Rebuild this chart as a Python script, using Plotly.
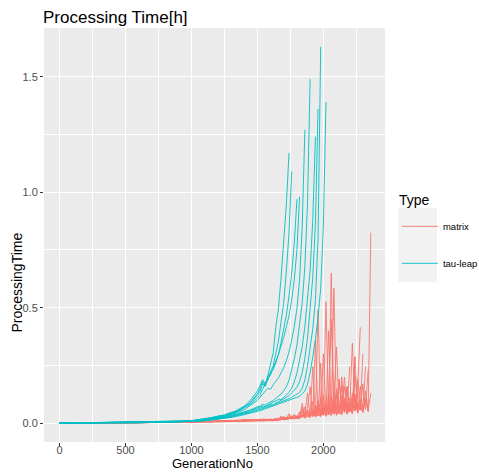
import plotly.graph_objects as go

# ---- generation grids -------------------------------------------------------
TAU_GEN = [0, 100, 200, 300, 400, 500, 600, 700, 800, 900, 1000,
           1050, 1100, 1150, 1200, 1250, 1300, 1350, 1400, 1450, 1500,
           1520, 1540, 1560, 1580, 1600, 1620, 1640, 1660, 1680, 1700,
           1720, 1740, 1760, 1780, 1800, 1820, 1840, 1860, 1880, 1900,
           1920, 1940, 1960, 1980, 2000, 2020]

MAT_GEN = [0, 100, 200, 300, 400, 500, 600, 700, 800, 900, 1000,
           1050, 1100, 1150, 1200, 1250, 1300, 1350, 1400, 1450, 1500, 1550, 1600,
           1620, 1640, 1660, 1680, 1700, 1720, 1740, 1760, 1780, 1800,
           1820, 1840, 1860, 1880, 1900, 1920, 1940, 1960, 1980, 2000,
           2020, 2040, 2060, 2080, 2100, 2120, 2140, 2160, 2180, 2200,
           2220, 2240, 2260, 2280, 2300, 2320, 2340, 2360, 2380]

# ---- processing time per run, tau-leap ------------------------------------
tau_run_1 = [0.000, 0.001, 0.001, 0.002, 0.002, 0.003, 0.003, 0.004, 0.006, 0.008, 0.011,
             0.014, 0.019, 0.023, 0.031, 0.036, 0.047, 0.052, 0.071, 0.088, 0.121,
             0.138, 0.172, 0.158, 0.207, 0.262, 0.305, 0.418, 0.497, 0.634, 0.779, 0.948, 1.17]
tau_run_2 = [0.000, 0.001, 0.001, 0.001, 0.002, 0.002, 0.003, 0.004, 0.005, 0.008, 0.010,
             0.013, 0.017, 0.021, 0.026, 0.034, 0.041, 0.049, 0.066, 0.083, 0.109,
             0.121, 0.149, 0.172, 0.186, 0.224, 0.248, 0.302, 0.356, 0.441, 0.523, 0.661, 0.824, 1.09]
tau_run_3 = [0.000, 0.001, 0.001, 0.002, 0.002, 0.002, 0.003, 0.004, 0.005, 0.007, 0.010,
             0.012, 0.016, 0.020, 0.025, 0.031, 0.040, 0.053, 0.069, 0.092, 0.128,
             0.149, 0.181, 0.162, 0.193, 0.209, 0.238, 0.272, 0.298, 0.351, 0.407, 0.468, 0.552,
             0.648, 0.781, 0.97]
tau_run_4 = [0.000, 0.001, 0.001, 0.001, 0.002, 0.003, 0.003, 0.004, 0.006, 0.008, 0.011,
             0.015, 0.018, 0.022, 0.029, 0.034, 0.043, 0.058, 0.074, 0.101, 0.139,
             0.162, 0.188, 0.171, 0.203, 0.218, 0.232, 0.261, 0.297, 0.328, 0.372, 0.418, 0.466,
             0.534, 0.621, 0.752, 0.98]
tau_run_5 = [0.000, 0.001, 0.001, 0.002, 0.002, 0.002, 0.003, 0.004, 0.005, 0.007, 0.009,
             0.012, 0.015, 0.019, 0.024, 0.030, 0.037, 0.046, 0.058, 0.077, 0.098,
             0.112, 0.128, 0.139, 0.151, 0.147, 0.166, 0.181, 0.196, 0.219, 0.241, 0.272, 0.308,
             0.359, 0.418, 0.497, 0.618, 0.852, 1.27]
tau_run_6 = [0.000, 0.001, 0.001, 0.001, 0.002, 0.002, 0.003, 0.003, 0.004, 0.006, 0.008,
             0.011, 0.014, 0.017, 0.022, 0.027, 0.033, 0.041, 0.049, 0.058, 0.071,
             0.074, 0.081, 0.079, 0.086, 0.092, 0.098, 0.108, 0.117, 0.126, 0.141, 0.158, 0.186,
             0.228, 0.279, 0.338, 0.419, 0.521, 0.679, 0.951, 1.49]
tau_run_7 = [0.000, 0.001, 0.001, 0.002, 0.002, 0.002, 0.003, 0.003, 0.004, 0.006, 0.008,
             0.010, 0.013, 0.016, 0.021, 0.026, 0.031, 0.038, 0.046, 0.055, 0.066,
             0.069, 0.074, 0.072, 0.079, 0.085, 0.091, 0.096, 0.104, 0.101, 0.112, 0.121, 0.133,
             0.151, 0.179, 0.218, 0.268, 0.331, 0.418, 0.528, 0.661, 0.879, 1.24]
tau_run_8 = [0.000, 0.001, 0.001, 0.001, 0.002, 0.002, 0.002, 0.003, 0.004, 0.005, 0.007,
             0.009, 0.012, 0.015, 0.019, 0.024, 0.029, 0.036, 0.043, 0.051, 0.061,
             0.064, 0.068, 0.071, 0.076, 0.081, 0.079, 0.087, 0.093, 0.098, 0.103, 0.112, 0.119,
             0.131, 0.142, 0.156, 0.181, 0.219, 0.281, 0.368, 0.497, 0.631, 0.862, 1.36]
tau_run_9 = [0.000, 0.001, 0.001, 0.001, 0.001, 0.002, 0.002, 0.003, 0.004, 0.005, 0.007,
             0.009, 0.011, 0.014, 0.018, 0.022, 0.027, 0.033, 0.039, 0.047, 0.056,
             0.059, 0.063, 0.066, 0.071, 0.075, 0.079, 0.083, 0.088, 0.092, 0.097, 0.101, 0.106,
             0.112, 0.118, 0.124, 0.133, 0.151, 0.188, 0.247, 0.321, 0.408, 0.532, 0.801, 1.63]
tau_run_10 = [0.000, 0.001, 0.001, 0.001, 0.001, 0.002, 0.002, 0.003, 0.003, 0.005, 0.006,
              0.008, 0.010, 0.013, 0.016, 0.020, 0.025, 0.030, 0.036, 0.043, 0.051,
              0.054, 0.058, 0.061, 0.065, 0.069, 0.073, 0.077, 0.081, 0.085, 0.089, 0.094, 0.098,
              0.103, 0.107, 0.112, 0.117, 0.126, 0.139, 0.168, 0.219, 0.288, 0.362, 0.461, 0.583,
              0.849, 1.39]

# ---- processing time per run, matrix ----------------------------------------
matrix_run_1 = [0.0, 0.001, 0.001, 0.001, 0.002, 0.002, 0.002, 0.003, 0.003, 0.004, 0.005,
                0.005, 0.006, 0.006, 0.007, 0.008, 0.009, 0.010, 0.011, 0.012, 0.014, 0.013, 0.015,
                0.012, 0.018, 0.014, 0.022, 0.016, 0.025, 0.019, 0.031, 0.021, 0.028,
                0.024, 0.086, 0.027, 0.041, 0.03, 0.062, 0.033, 0.075, 0.036, 0.058,
                0.039, 0.091, 0.043, 0.11, 0.047, 0.19, 0.05, 0.085, 0.056, 0.245]
matrix_run_2 = [0.0, 0.001, 0.001, 0.002, 0.002, 0.002, 0.003, 0.003, 0.004, 0.004, 0.005,
                0.006, 0.007, 0.006, 0.008, 0.009, 0.012, 0.010, 0.013, 0.015, 0.014, 0.017, 0.013,
                0.015, 0.011, 0.019, 0.026, 0.017, 0.021, 0.034, 0.02, 0.027, 0.023,
                0.045, 0.026, 0.038, 0.13, 0.029, 0.052, 0.032, 0.098, 0.035, 0.30,
                0.038, 0.072, 0.041, 0.14, 0.044, 0.066, 0.048, 0.2, 0.051, 0.083,
                0.055, 0.288]
matrix_run_3 = [0.0, 0.001, 0.001, 0.001, 0.001, 0.002, 0.002, 0.002, 0.003, 0.003, 0.004,
                0.004, 0.005, 0.005, 0.006, 0.007, 0.008, 0.009, 0.008, 0.010, 0.011, 0.012, 0.011,
                0.01, 0.016, 0.013, 0.019, 0.028, 0.016, 0.023, 0.018, 0.036, 0.02,
                0.022, 0.051, 0.025, 0.064, 0.158, 0.028, 0.071, 0.031, 0.26, 0.034,
                0.526, 0.037, 0.12, 0.04, 0.078, 0.043, 0.16, 0.047, 0.158, 0.05,
                0.094, 0.054, 0.124]
matrix_run_4 = [0.0, 0.001, 0.001, 0.001, 0.002, 0.002, 0.002, 0.003, 0.003, 0.004, 0.005,
                0.006, 0.005, 0.007, 0.008, 0.010, 0.009, 0.012, 0.014, 0.011, 0.016, 0.013, 0.018,
                0.014, 0.02, 0.016, 0.031, 0.018, 0.022, 0.041, 0.024, 0.02, 0.033,
                0.026, 0.058, 0.029, 0.047, 0.032, 0.245, 0.035, 0.09, 0.038, 0.067,
                0.041, 0.4, 0.044, 0.1, 0.33, 0.047, 0.12, 0.05, 0.087, 0.053,
                0.346, 0.057, 0.13, 0.415]
matrix_run_5 = [0.0, 0.001, 0.001, 0.002, 0.002, 0.002, 0.003, 0.003, 0.004, 0.005, 0.005,
                0.006, 0.007, 0.008, 0.007, 0.009, 0.011, 0.010, 0.013, 0.016, 0.012, 0.015, 0.019,
                0.017, 0.013, 0.021, 0.015, 0.027, 0.019, 0.024, 0.021, 0.038, 0.023,
                0.049, 0.025, 0.071, 0.028, 0.055, 0.031, 0.36, 0.034, 0.11, 0.037,
                0.082, 0.04, 0.65, 0.043, 0.15, 0.046, 0.095, 0.049, 0.158, 0.052,
                0.11, 0.056, 0.19, 0.06, 0.30]
matrix_run_6 = [0.0, 0.001, 0.001, 0.001, 0.001, 0.002, 0.002, 0.002, 0.003, 0.003, 0.004,
                0.004, 0.005, 0.006, 0.005, 0.007, 0.008, 0.007, 0.009, 0.011, 0.010, 0.012, 0.014,
                0.011, 0.015, 0.012, 0.021, 0.014, 0.017, 0.029, 0.018, 0.024, 0.02,
                0.023, 0.039, 0.025, 0.06, 0.028, 0.045, 0.03, 0.49, 0.033, 0.08,
                0.036, 0.13, 0.039, 0.585, 0.042, 0.19, 0.045, 0.105, 0.048, 0.072,
                0.051, 0.21, 0.055, 0.098, 0.059, 0.245]
matrix_run_7 = [0.0, 0.001, 0.001, 0.001, 0.002, 0.002, 0.003, 0.003, 0.003, 0.004, 0.005,
                0.005, 0.006, 0.007, 0.009, 0.008, 0.010, 0.013, 0.011, 0.012, 0.016, 0.014, 0.012,
                0.013, 0.019, 0.015, 0.017, 0.025, 0.018, 0.02, 0.032, 0.021, 0.027,
                0.024, 0.068, 0.026, 0.05, 0.029, 0.095, 0.031, 0.062, 0.034, 0.12,
                0.037, 0.09, 0.45, 0.04, 0.14, 0.043, 0.2, 0.046, 0.075, 0.049,
                0.13, 0.052, 0.085, 0.056, 0.17, 0.06, 0.23]
matrix_run_8 = [0.0, 0.001, 0.001, 0.001, 0.001, 0.002, 0.002, 0.003, 0.003, 0.004, 0.004,
                0.005, 0.006, 0.006, 0.007, 0.008, 0.007, 0.009, 0.011, 0.010, 0.012, 0.015, 0.013,
                0.016, 0.012, 0.018, 0.023, 0.016, 0.019, 0.026, 0.02, 0.022, 0.03,
                0.023, 0.04, 0.025, 0.035, 0.027, 0.055, 0.029, 0.044, 0.031, 0.065,
                0.033, 0.05, 0.035, 0.085, 0.037, 0.06, 0.039, 0.11, 0.041, 0.07,
                0.043, 0.125, 0.045, 0.08, 0.048, 0.1, 0.052]
matrix_run_9 = [0.0, 0.001, 0.001, 0.001, 0.001, 0.001, 0.002, 0.002, 0.003, 0.003, 0.004,
                0.004, 0.005, 0.005, 0.006, 0.006, 0.007, 0.008, 0.009, 0.010, 0.009, 0.011, 0.012,
                0.012, 0.017, 0.013, 0.015, 0.021, 0.016, 0.018, 0.027, 0.019, 0.022,
                0.02, 0.034, 0.022, 0.029, 0.024, 0.047, 0.026, 0.038, 0.028, 0.055,
                0.03, 0.045, 0.032, 0.07, 0.034, 0.052, 0.036, 0.09, 0.038, 0.062,
                0.04, 0.115, 0.043, 0.075, 0.046, 0.14, 0.05, 0.825]
matrix_run_10 = [0.0, 0.001, 0.001, 0.002, 0.002, 0.002, 0.003, 0.003, 0.004, 0.004, 0.005,
                 0.006, 0.006, 0.008, 0.007, 0.010, 0.009, 0.011, 0.014, 0.012, 0.013, 0.017, 0.015,
                 0.015, 0.021, 0.016, 0.019, 0.028, 0.02, 0.024, 0.022, 0.035, 0.024,
                 0.029, 0.026, 0.052, 0.028, 0.043, 0.03, 0.078, 0.032, 0.06, 0.034,
                 0.085, 0.036, 0.065, 0.038, 0.12, 0.04, 0.095, 0.158, 0.043, 0.11,
                 0.046, 0.288, 0.049, 0.16, 0.052, 0.11, 0.056, 0.13]

COLORS = {"matrix": "#F8766D", "tau-leap": "#00BFC4"}

matrix_runs = [matrix_run_1, matrix_run_2, matrix_run_3, matrix_run_4, matrix_run_5,
               matrix_run_6, matrix_run_7, matrix_run_8, matrix_run_9, matrix_run_10]
tau_runs = [tau_run_1, tau_run_2, tau_run_3, tau_run_4, tau_run_5,
            tau_run_6, tau_run_7, tau_run_8, tau_run_9, tau_run_10]

X_TICKS = [0, 500, 1000, 1500, 2000]
Y_TICKS = [0.0, 0.5, 1.0, 1.5]
Y_TICK_TEXT = ["0.0", "0.5", "1.0", "1.5"]

FONT = "Liberation Sans, Arial, sans-serif"

fig = go.Figure()

for kind, runs, gens in (("matrix", matrix_runs, MAT_GEN), ("tau-leap", tau_runs, TAU_GEN)):
    for i, vals in enumerate(runs):
        fig.add_trace(go.Scatter(
            x=gens[:len(vals)], y=vals, mode="lines",
            line=dict(color=COLORS[kind], width=0.9),
            name=kind, legendgroup=kind, showlegend=(i == 0),
            hoverinfo="skip",
        ))

# light key background behind the legend symbols
fig.add_shape(type="rect", xref="paper", yref="paper",
              x0=1.038, x1=1.152, y0=0.386, y1=0.565,
              fillcolor="#F2F2F2", line=dict(width=0), layer="below")

# legend heading and axis titles
fig.add_annotation(text="Type", xref="paper", yref="paper",
                   x=1.036, y=0.5845, xanchor="left", yanchor="middle",
                   showarrow=False, font=dict(family=FONT, size=14, color="black"))
fig.add_annotation(text="GenerationNo", xref="paper", yref="paper",
                   x=0.495, y=-0.0531, xanchor="center", yanchor="middle",
                   showarrow=False, font=dict(family=FONT, size=13, color="black"))
fig.add_annotation(text="ProcessingTime", xref="paper", yref="paper",
                   x=-0.0792, y=0.385, xanchor="center", yanchor="middle", textangle=-90,
                   showarrow=False, font=dict(family=FONT, size=14, color="black"))

axis_common = dict(
    showgrid=True, gridcolor="white", gridwidth=1.1,
    zeroline=False, showline=False, automargin=False,
    ticks="outside", ticklen=3, tickwidth=1, tickcolor="#333333",
    tickfont=dict(family=FONT, size=11, color="#4D4D4D"),
)

fig.update_layout(
    width=479, height=473,
    margin=dict(l=44, r=94, t=28, b=31, autoexpand=False),
    paper_bgcolor="white", plot_bgcolor="#EBEBEB",
    title=dict(text="Processing Time[h]", x=43 / 479, xref="container", xanchor="left",
               y=1 - 17 / 473, yref="container", yanchor="middle",
               font=dict(family=FONT, size=17, color="black")),
    xaxis=dict(range=[-117.5, 2467.5], tickvals=X_TICKS, ticklabelstandoff=-5,
               minor=dict(dtick=250, tick0=0, showgrid=True, gridcolor="white",
                          gridwidth=0.5, ticks=""),
               **axis_common),
    yaxis=dict(range=[-0.0815, 1.711], tickvals=Y_TICKS, ticktext=Y_TICK_TEXT,
               minor=dict(dtick=0.25, tick0=0, showgrid=True, gridcolor="white",
                          gridwidth=0.5, ticks=""),
               **axis_common),
    legend=dict(
        font=dict(family=FONT, size=9.5, color="black"),
        x=1.035, xanchor="left", y=0.556, yanchor="top",
        bgcolor="rgba(0,0,0,0)", traceorder="grouped", tracegroupgap=18,
        itemwidth=36,
    ),
    showlegend=True,
)

fig.write_html("out.html")
